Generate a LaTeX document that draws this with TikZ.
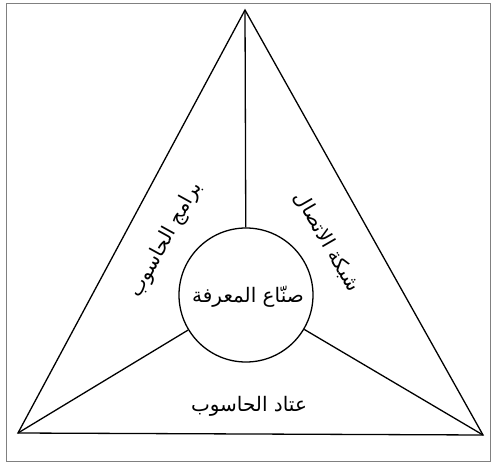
\documentclass[tikz,border=0pt]{standalone}
\usepackage{fontspec}
\newfontfamily\arabicfont[Script=Arabic]{DejaVu Sans}
\TeXXeTstate=1
\usepackage{tikz}
\usetikzlibrary{positioning, calc}

\begin{document}
\begin{tikzpicture}[x=1pt, y=-1pt, line width=1.3pt,
    label/.style={font=\arabicfont\fontsize{20}{24}\selectfont, inner sep=0pt}]
        % Frame
        \useasboundingbox (0, 0) rectangle (495, 463);
        \draw[gray, line width=1pt] (6, 3) rectangle (490, 461);
        % Corners
        \coordinate (apex) at (245, 10);
        \coordinate (left) at (18, 433);
        \coordinate (right) at (483, 435);
        % Triangle
        \draw (apex) -- (left) -- (right) -- cycle;
        % Core
        \node[draw, circle, minimum size=134pt, inner sep=0pt] (core) at (246, 295) {};
        \node[label] (makers) at (248, 297) {\beginR صنّاع المعرفة\endR};
        % Spokes
        \draw (apex) -- (core);
        \draw (left) -- (core);
        \draw (right) -- (core);
        % Labels
        \node[label, rotate=61] (software) at (166, 240) {\beginR برامج الحاسوب\endR};
        \node[label, rotate=-60] (network) at (327, 242) {\beginR شبكة الاتصال\endR};
        \node[label] (hardware) at (249, 406) {\beginR عتاد الحاسوب\endR};
    \end{tikzpicture}
\end{document}
